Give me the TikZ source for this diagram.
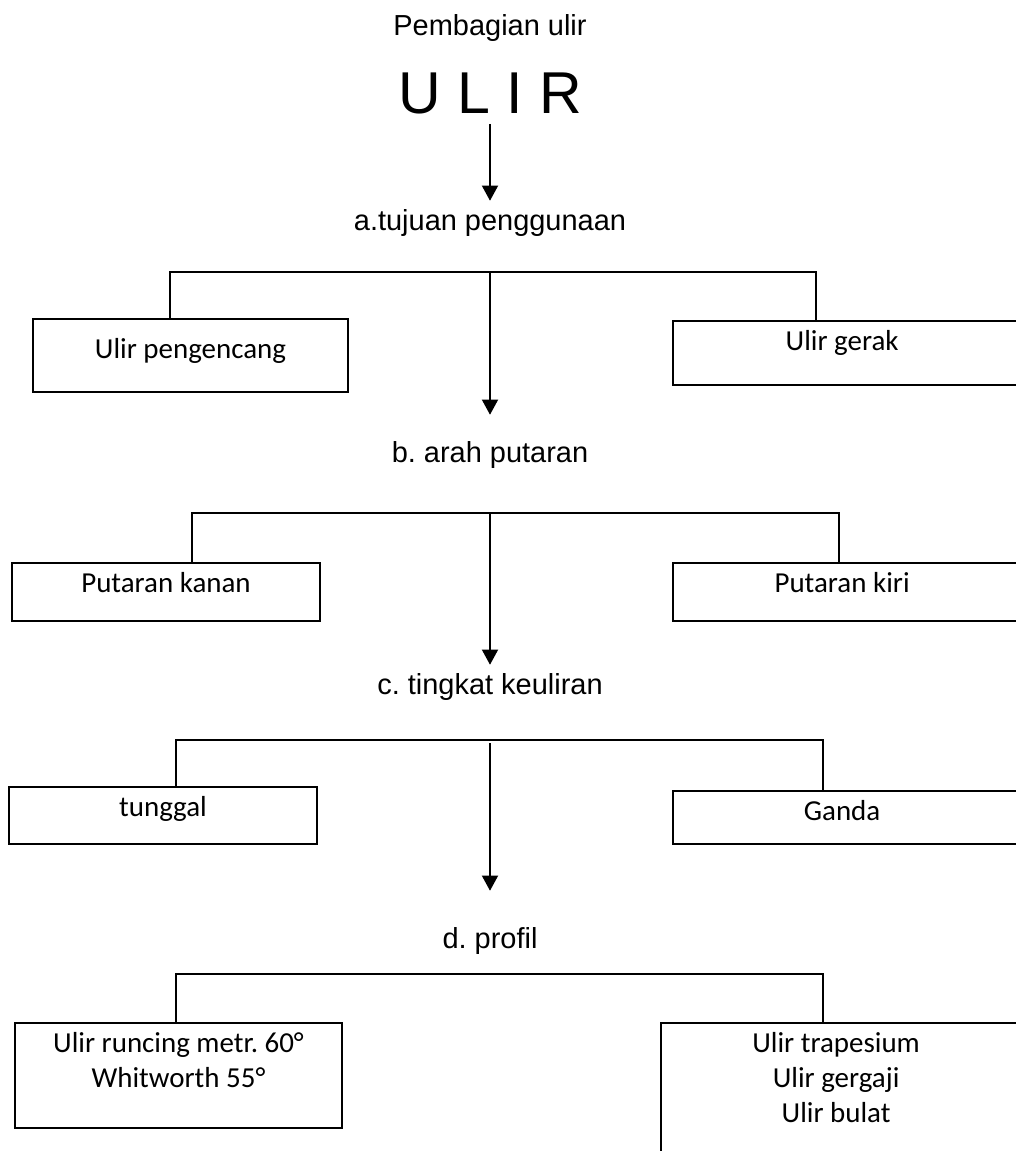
\documentclass[tikz,border=0pt]{standalone}
\usepackage{fontspec}
\setmainfont{Liberation Sans}
\newfontfamily\calibri{Carlito}
\usetikzlibrary{arrows.meta,positioning}
\frenchspacing

\begin{document}
\begin{tikzpicture}[
    head/.style={font=\fontsize{20.6pt}{24.7pt}\selectfont, anchor=base, inner sep=0.2cm},
    box/.style={draw, line width=1.2pt, inner sep=0pt},
    boxtext/.style={anchor=north, yshift=-0.25cm, inner sep=0pt, align=center,
      font=\calibri\fontsize{20.6pt}{24.9pt}\selectfont},
    bracket/.style={line width=1.2pt},
    flow/.style={line width=1.4pt, -{Triangle[length=0.38cm,width=0.4cm]}}
  ]
  \useasboundingbox (0,0) rectangle (25.4,-28.775);
  \clip (0,0) rectangle (25.4,-28.775);

  % headings
  \node[head] (title) at (12.25,-0.875) {Pembagian ulir};
  \node[anchor=base, inner sep=0.25cm, font=\fontsize{42pt}{50pt}\selectfont] (ulir) at (12.25,-2.825) {U L I R};
  \node[head] (tujuan) at (12.25,-5.75) {a.tujuan penggunaan};
  \node[head] (arah) at (12.25,-11.55) {b. arah putaran};
  \node[head] (keuliran) at (12.25,-17.35) {c. tingkat keuliran};
  \node[head] (profil) at (12.25,-23.7) {d. profil};

  % a. tujuan penggunaan
  \node[box, line width=1.8pt, minimum width=7.875cm, minimum height=1.825cm,
        label={[boxtext, yshift=-0.25cm]north:Ulir pengencang}] (pengencang) at (4.7625,-8.8875) {};
  \node[box, minimum width=8.775cm, minimum height=1.6cm,
        label={[boxtext, xshift=-0.16cm]north:Ulir gerak}] (gerak) at (21.2125,-8.825) {};

  % b. arah putaran
  \node[box, minimum width=7.7cm, minimum height=1.45cm,
        label={[boxtext]north:Putaran kanan}] (kanan) at (4.15,-14.8) {};
  \node[box, minimum width=8.775cm, minimum height=1.45cm,
        label={[boxtext, xshift=-0.16cm]north:Putaran kiri}] (kiri) at (21.2125,-14.8) {};

  % c. tingkat keuliran
  \node[box, minimum width=7.7cm, minimum height=1.425cm,
        label={[boxtext]north:tunggal}] (tunggal) at (4.075,-20.3875) {};
  \node[box, minimum width=8.775cm, minimum height=1.325cm,
        label={[boxtext, xshift=-0.16cm]north:Ganda}] (ganda) at (21.2125,-20.4375) {};

  % d. profil
  \node[box, minimum width=8.175cm, minimum height=2.625cm,
        label={[boxtext]north:Ulir runcing metr. 60°\\Whitworth 55°}] (runcing) at (4.4625,-26.8875) {};
  \node[box, minimum width=9.075cm, minimum height=3.925cm,
        label={[boxtext, xshift=-0.16cm]north:Ulir trapesium\\Ulir gergaji\\Ulir bulat}] (trapesium) at (21.0625,-27.5375) {};

  % branch lines
  \coordinate (a-l) at (4.25,-6.8);
  \coordinate (a-r) at (20.4,-6.8);
  \coordinate (b-l) at (4.8,-12.825);
  \coordinate (b-r) at (20.975,-12.825);
  \coordinate (c-l) at (4.4,-18.5);
  \coordinate (c-r) at (20.575,-18.5);
  \coordinate (d-l) at (4.4,-24.35);
  \coordinate (d-r) at (20.575,-24.35);

  \draw[bracket] (pengencang.north -| a-l) |- (a-r) -- (a-r |- gerak.north);
  \draw[bracket] (kanan.north -| b-l) |- (b-r) -- (b-r |- kiri.north);
  \draw[bracket] (tunggal.north -| c-l) |- (c-r) -- (c-r |- ganda.north);
  \draw[bracket] (runcing.north -| d-l) |- (d-r) -- (d-r |- trapesium.north);

  % arrows
  \draw[flow] (ulir.south) -- (tujuan.north);
  \draw[flow, shorten >=0.45cm] (tujuan |- a-l) -- (arah.north);
  \draw[flow] (arah |- b-l) -- (keuliran.north);
  \draw[flow, shorten >=0.7cm] (keuliran |- c-l) ++(0,-0.075) -- (profil.north);
\end{tikzpicture}
\end{document}
